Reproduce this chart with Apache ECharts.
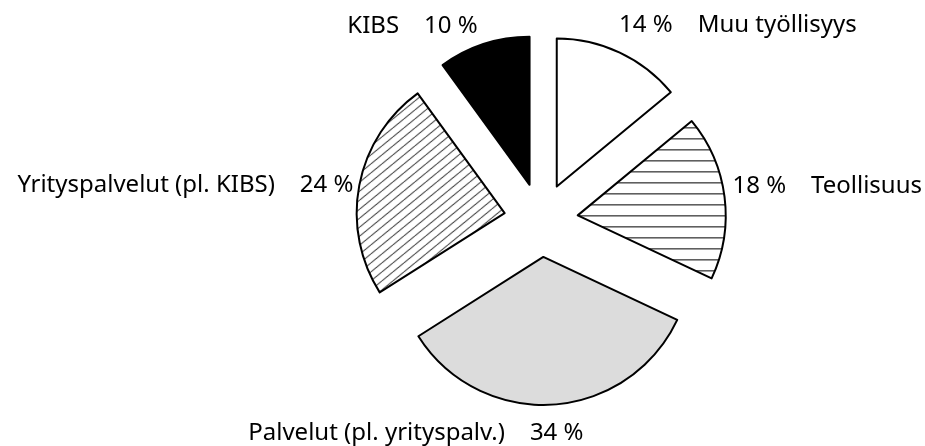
<!DOCTYPE html>
<html>
<head>
<meta charset="utf-8">
<script src="https://cdn.jsdelivr.net/npm/echarts@6/dist/echarts.min.js"></script>
<style>
  html, body { margin: 0; padding: 0; background: #fff; }
  #chart { width: 925px; height: 446px; }
</style>
</head>
<body>
<div id="chart"></div>
<script>
// data
const categories = ["Muu työllisyys", "Teollisuus", "Palvelut (pl. yrityspalv.)", "Yrityspalvelut (pl. KIBS)", "KIBS"];
const shares = [14, 18, 34, 24, 10];

// fills: plain colours or small canvas patterns
function hatch(w, h, draw) {
  const c = document.createElement("canvas");
  c.width = w;
  c.height = h;
  const ctx = c.getContext("2d");
  ctx.fillStyle = "#fff";
  ctx.fillRect(0, 0, w, h);
  ctx.strokeStyle = "#000";
  ctx.lineWidth = 1;
  draw(ctx, w, h);
  return { image: c, repeat: "repeat" };
}

const horizontal = hatch(10, 11, (ctx, w) => {
  ctx.beginPath();
  ctx.moveTo(0, 0.5);
  ctx.lineTo(w, 0.5);
  ctx.stroke();
});

const diagonal = hatch(11, 9, (ctx, w, h) => {
  ctx.beginPath();
  ctx.moveTo(0, h);
  ctx.lineTo(w, 0);
  ctx.moveTo(-w, h);
  ctx.lineTo(0, 0);
  ctx.moveTo(w, h);
  ctx.lineTo(2 * w, 0);
  ctx.stroke();
});

const fills = ["#ffffff", horizontal, "#dcdcdc", diagonal, "#000000"];

// small label nudges (dx, dy) to match the original placement
const labelNudge = [[-10, -18], [-7, -9], [-310, 19], [9, 2], [2, -8]];

const myChart = echarts.init(document.getElementById("chart"));

const option = {
  animation: false,
  series: [
    {
      type: "pie",
      center: [541, 220],
      radius: 148,
      startAngle: 90,
      clockwise: true,
      selectedMode: "multiple",
      selectedOffset: 37,
      avoidLabelOverlap: false,
      itemStyle: { borderColor: "#000", borderWidth: 2 },
      select: { itemStyle: { borderColor: "#000", borderWidth: 2 } },
      emphasis: { disabled: true },
      label: {
        show: true,
        position: "outside",
        fontFamily: "Noto Sans",
        fontSize: 24,
        color: "#000",
        formatter: (p) => {
          const pct = p.value + " %";
          return p.dataIndex < 2 ? pct + "    " + p.name : p.name + "    " + pct;
        },
      },
      labelLine: { show: false, length: 10, length2: 0 },
      labelLayout: (p) => ({ dx: labelNudge[p.dataIndex][0], dy: labelNudge[p.dataIndex][1] }),
      data: categories.map((name, i) => ({
        name: name,
        value: shares[i],
        selected: true,
        itemStyle: { color: fills[i] },
        select: { itemStyle: { color: fills[i] } },
      })),
    },
  ],
};

myChart.setOption(option);
</script>
</body>
</html>
